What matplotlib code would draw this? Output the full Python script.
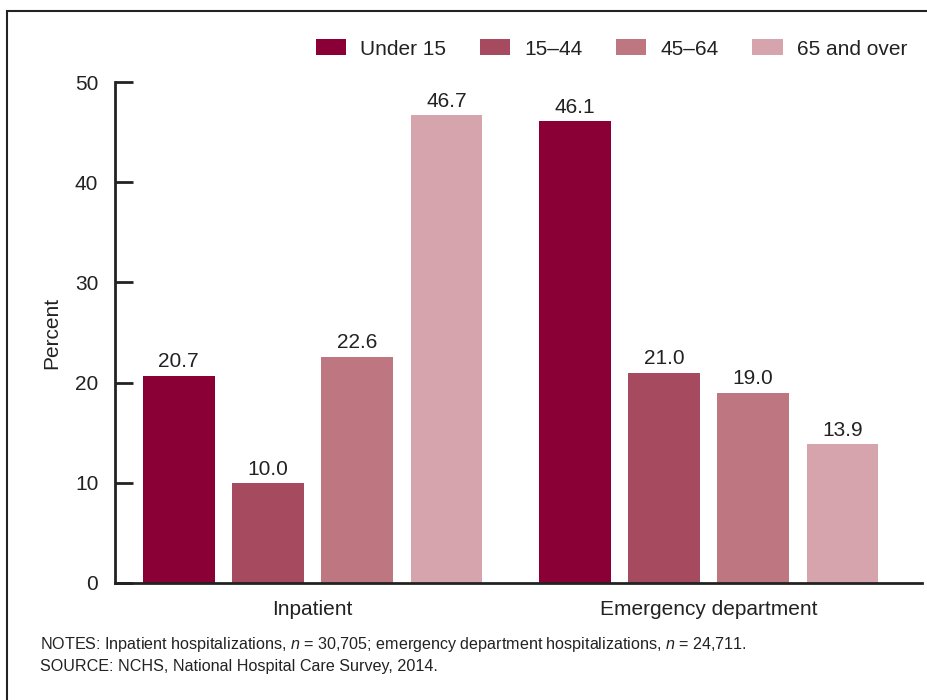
import matplotlib
matplotlib.use("Agg")
import matplotlib.pyplot as plt
from matplotlib.patches import Rectangle
import numpy as np

plt.rcParams["font.family"] = ["Liberation Sans", "DejaVu Sans"]
plt.rcParams["mathtext.fontset"] = "custom"
plt.rcParams["mathtext.it"] = "Liberation Sans:italic"
plt.rcParams["mathtext.rm"] = "Liberation Sans"

categories = ["Inpatient", "Emergency department"]
age_groups = ["Under 15", "15\u201344", "45\u201364", "65 and over"]
values = {
    "Under 15": [20.7, 46.1],
    "15\u201344": [10.0, 21.0],
    "45\u201364": [22.6, 19.0],
    "65 and over": [46.7, 13.9],
}
colors = ["#8A0036", "#A64B5F", "#BE7681", "#D6A4AC"]
y_ticks = [0, 10, 20, 30, 40, 50]

fig = plt.figure(figsize=(9.27, 7.0), dpi=100)
ax = fig.add_axes([115 / 927, 1 - 583 / 700, (922 - 115) / 927, (583 - 82) / 700])

x = np.arange(len(categories))
pitch = 0.2254
width = 0.181
for i, grp in enumerate(age_groups):
    offs = (i - 1.5) * pitch
    bars = ax.bar(x + offs, values[grp], width=width, color=colors[i], label=grp)
    ax.bar_label(bars, labels=[f"{v:.1f}" for v in values[grp]], padding=3,
                 fontsize=15, color="#222222")

ax.set_xlim(-0.499, 1.539)
ax.set_ylim(0, 50)
ax.set_yticks(y_ticks)
ax.set_xticks(x)
ax.set_xticklabels(categories)
ax.tick_params(axis="x", length=0, pad=12, labelsize=15, colors="#222222")
ax.tick_params(axis="y", direction="in", length=13, width=2, pad=12,
               labelsize=15, colors="#222222")
for side in ["top", "right"]:
    ax.spines[side].set_visible(False)
for side in ["left", "bottom"]:
    ax.spines[side].set_linewidth(2)
    ax.spines[side].set_color("#222222")
ax.set_ylabel("Percent", fontsize=15, color="#222222", labelpad=10)

leg = fig.legend(loc="center right", bbox_to_anchor=(907 / 927, 1 - 49 / 700),
                 ncol=4, frameon=False, fontsize=15, handlelength=1.45,
                 handleheight=0.77, handletextpad=0.67, columnspacing=1.63,
                 borderpad=0, borderaxespad=0)
for t in leg.get_texts():
    t.set_color("#222222")

fig.text(40 / 927, 1 - 645 / 700,
         "NOTES: Inpatient hospitalizations, $n$ = 30,705; emergency department hospitalizations, $n$ = 24,711.",
         fontsize=11.6, color="#222222", va="center", ha="left")
fig.text(40 / 927, 1 - 667 / 700,
         "SOURCE: NCHS, National Hospital Care Survey, 2014.",
         fontsize=11.6, color="#222222", va="center", ha="left")

# Outer frame (left and top edges fall inside the canvas)
fig.patches.append(Rectangle((7 / 927, -0.2), 1.2, 1.2 - 11 / 700,
                             transform=fig.transFigure, fill=False,
                             edgecolor="#222222", linewidth=1.5))

fig.savefig("out.png", dpi=100)
